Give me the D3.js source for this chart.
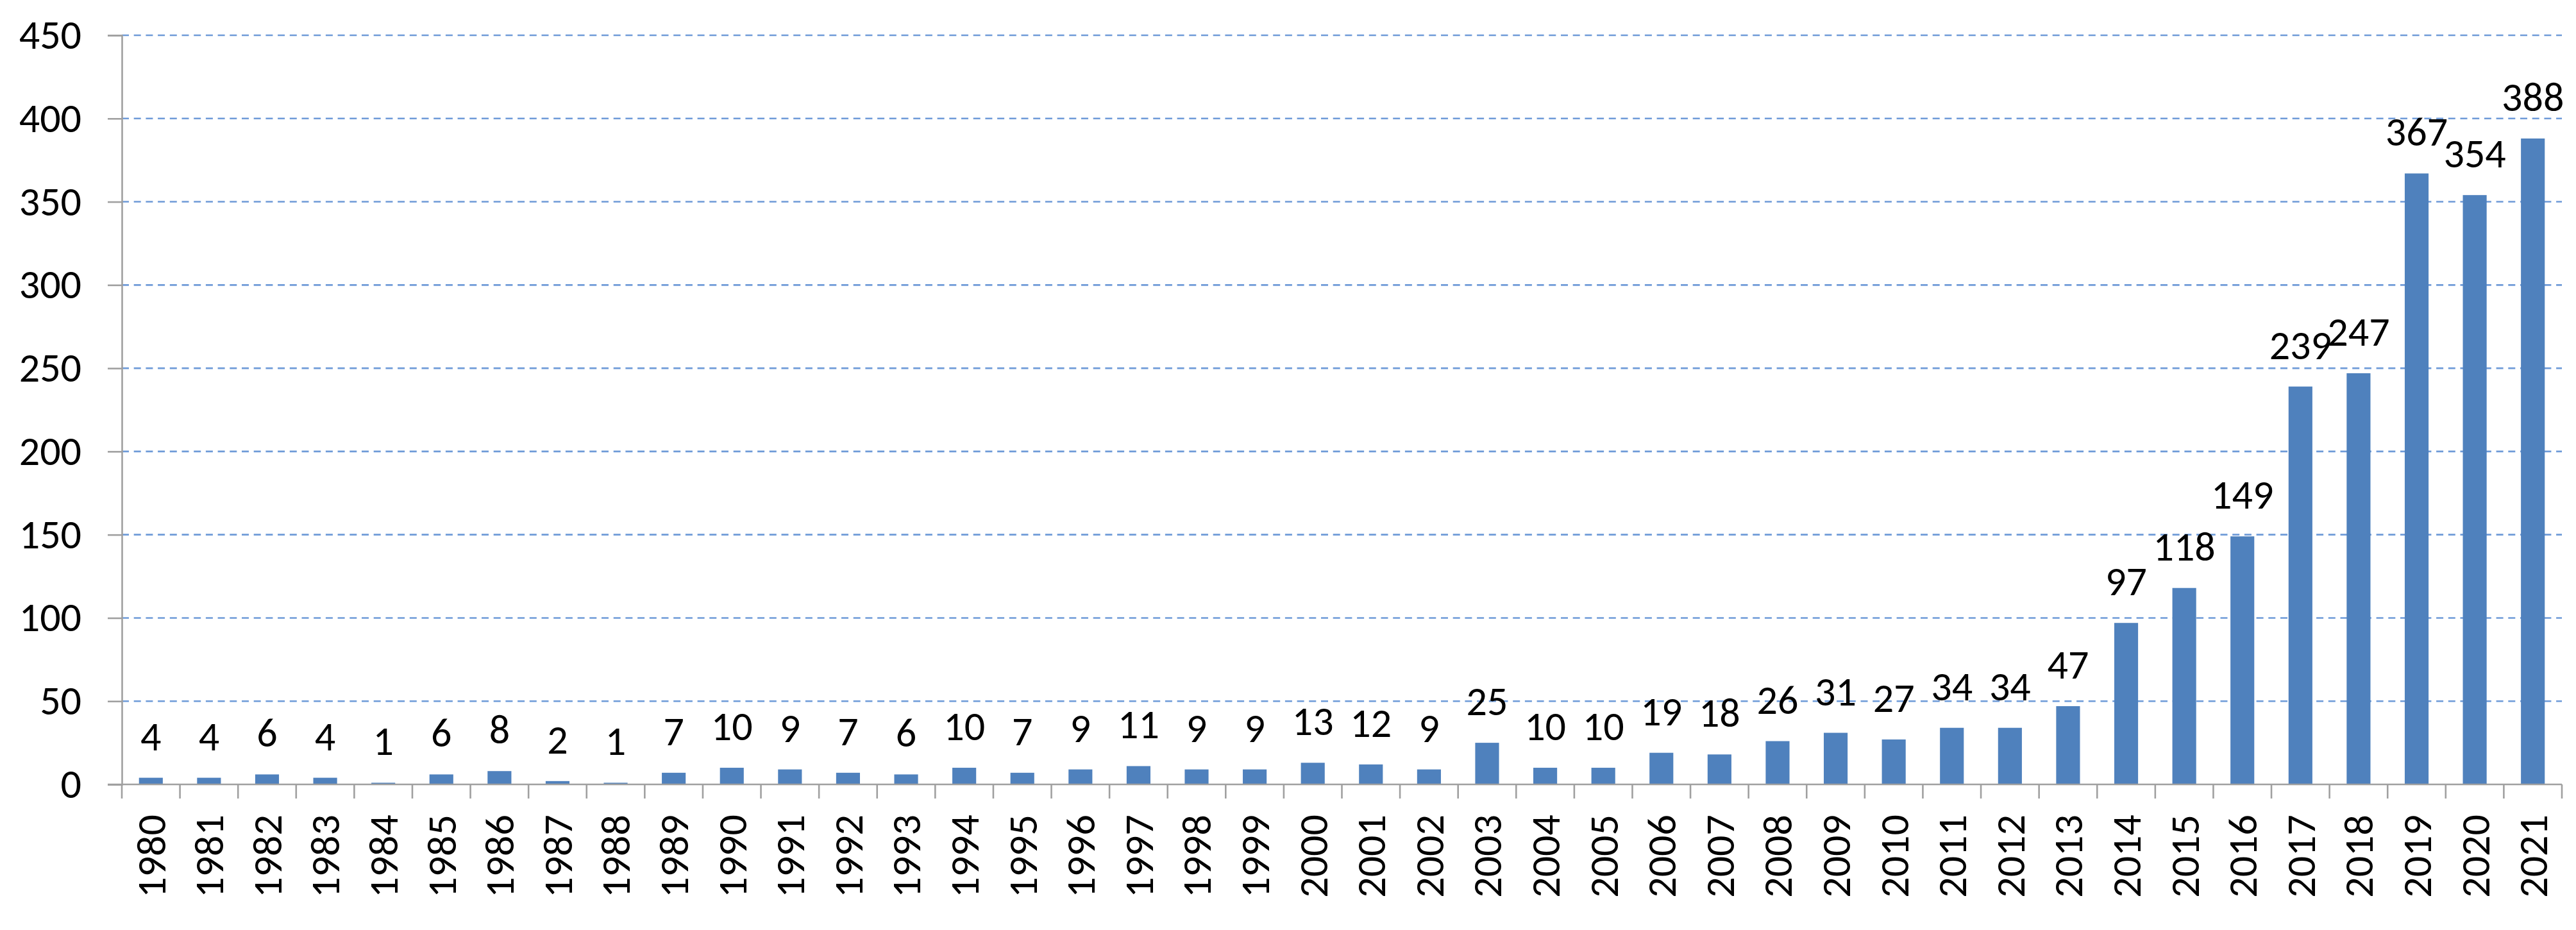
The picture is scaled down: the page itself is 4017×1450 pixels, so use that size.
<!DOCTYPE html>
<html>
<head>
<meta charset="utf-8">
<script src="https://cdn.jsdelivr.net/npm/d3@7"></script>
<style>
  body { margin: 0; background: #fff; }
  text { font-family: Carlito, Calibri, Lato, "Liberation Sans", sans-serif; fill: #000; }
</style>
</head>
<body>
<svg width="4017" height="1450"></svg>
<script>
// data
const years = ['1980','1981','1982','1983','1984','1985','1986','1987','1988','1989',
    '1990','1991','1992','1993','1994','1995','1996','1997','1998','1999',
    '2000','2001','2002','2003','2004','2005','2006','2007','2008','2009',
    '2010','2011','2012','2013','2014','2015','2016','2017','2018','2019',
    '2020','2021'];
const counts = [4, 4, 6, 4, 1, 6, 8, 2, 1, 7,
    10, 9, 7, 6, 10, 7, 9, 11, 9, 9,
    13, 12, 9, 25, 10, 10, 19, 18, 26, 31,
    27, 34, 34, 47, 97, 118, 149, 239, 247, 367,
    354, 388];
const yTicks = [0, 50, 100, 150, 200, 250, 300, 350, 400, 450];

const svg = d3.select('svg');
const margin = {left: 190, right: 22, top: 55, bottom: 227};
const width = +svg.attr('width'), height = +svg.attr('height');
const fontSize = 64;
const fontFamily = 'Carlito, Calibri, Lato, sans-serif';
const axisColor = '#a0a0a0';

const x = d3.scaleBand().domain(years)
    .range([margin.left, width - margin.right])
    .paddingInner(0.59).paddingOuter(0.295);
const y = d3.scaleLinear().domain([0, 450]).range([height - margin.bottom, margin.top]);

// gridlines
svg.append('g').attr('class', 'grid')
    .selectAll('line').data(yTicks.filter(d => d > 0))
    .enter().append('line')
    .attr('x1', margin.left).attr('x2', width - margin.right)
    .attr('y1', d => y(d)).attr('y2', d => y(d))
    .style('stroke', '#6f9bd8').style('stroke-width', 2.6)
    .style('stroke-dasharray', '11,7.7');

// bars
svg.append('g').selectAll('rect').data(counts)
    .enter().append('rect')
    .attr('x', (d, i) => x(years[i]))
    .attr('width', x.bandwidth())
    .attr('y', d => y(d))
    .attr('height', d => y(0) - y(d))
    .style('fill', '#4f81bd');

// y axis
const yAxis = svg.append('g')
    .attr('transform', `translate(${margin.left},0)`)
    .call(d3.axisLeft(y).tickValues(yTicks).tickSize(22).tickPadding(41));
yAxis.select('.domain').style('stroke', axisColor).style('stroke-width', 2.6);
yAxis.selectAll('.tick line').style('stroke', axisColor).style('stroke-width', 2.6);
yAxis.selectAll('.tick text').style('font-size', fontSize + 'px')
    .style('font-family', fontFamily).attr('fill', '#000');

// x axis (labels at band centres, ticks at band edges)
const xAxis = svg.append('g')
    .attr('transform', `translate(0,${y(0)})`)
    .call(d3.axisBottom(x).tickSize(0).tickSizeOuter(0));
xAxis.select('.domain').remove();
xAxis.selectAll('.tick text')
    .style('font-size', fontSize + 'px')
    .style('font-family', fontFamily)
    .attr('fill', '#000')
    .attr('text-anchor', 'end')
    .attr('transform', 'rotate(-90)')
    .attr('x', -47).attr('y', 0).attr('dy', '0.35em');

const step = x.step();
const edges = d3.range(years.length + 1).map(i => margin.left + i * step);
svg.append('line')
    .attr('x1', margin.left - 22).attr('x2', width - margin.right)
    .attr('y1', y(0)).attr('y2', y(0))
    .style('stroke', axisColor).style('stroke-width', 2.6);
svg.append('g').selectAll('line').data(edges)
    .enter().append('line')
    .attr('x1', d => d).attr('x2', d => d)
    .attr('y1', y(0)).attr('y2', y(0) + 22)
    .style('stroke', axisColor).style('stroke-width', 2.6);

// value labels
svg.append('g').selectAll('text').data(counts)
    .enter().append('text')
    .attr('x', (d, i) => x(years[i]) + x.bandwidth() / 2)
    .attr('y', d => y(d) - 43)
    .attr('text-anchor', 'middle')
    .style('font-size', fontSize + 'px')
    .text(d => d);
</script>
</body>
</html>
